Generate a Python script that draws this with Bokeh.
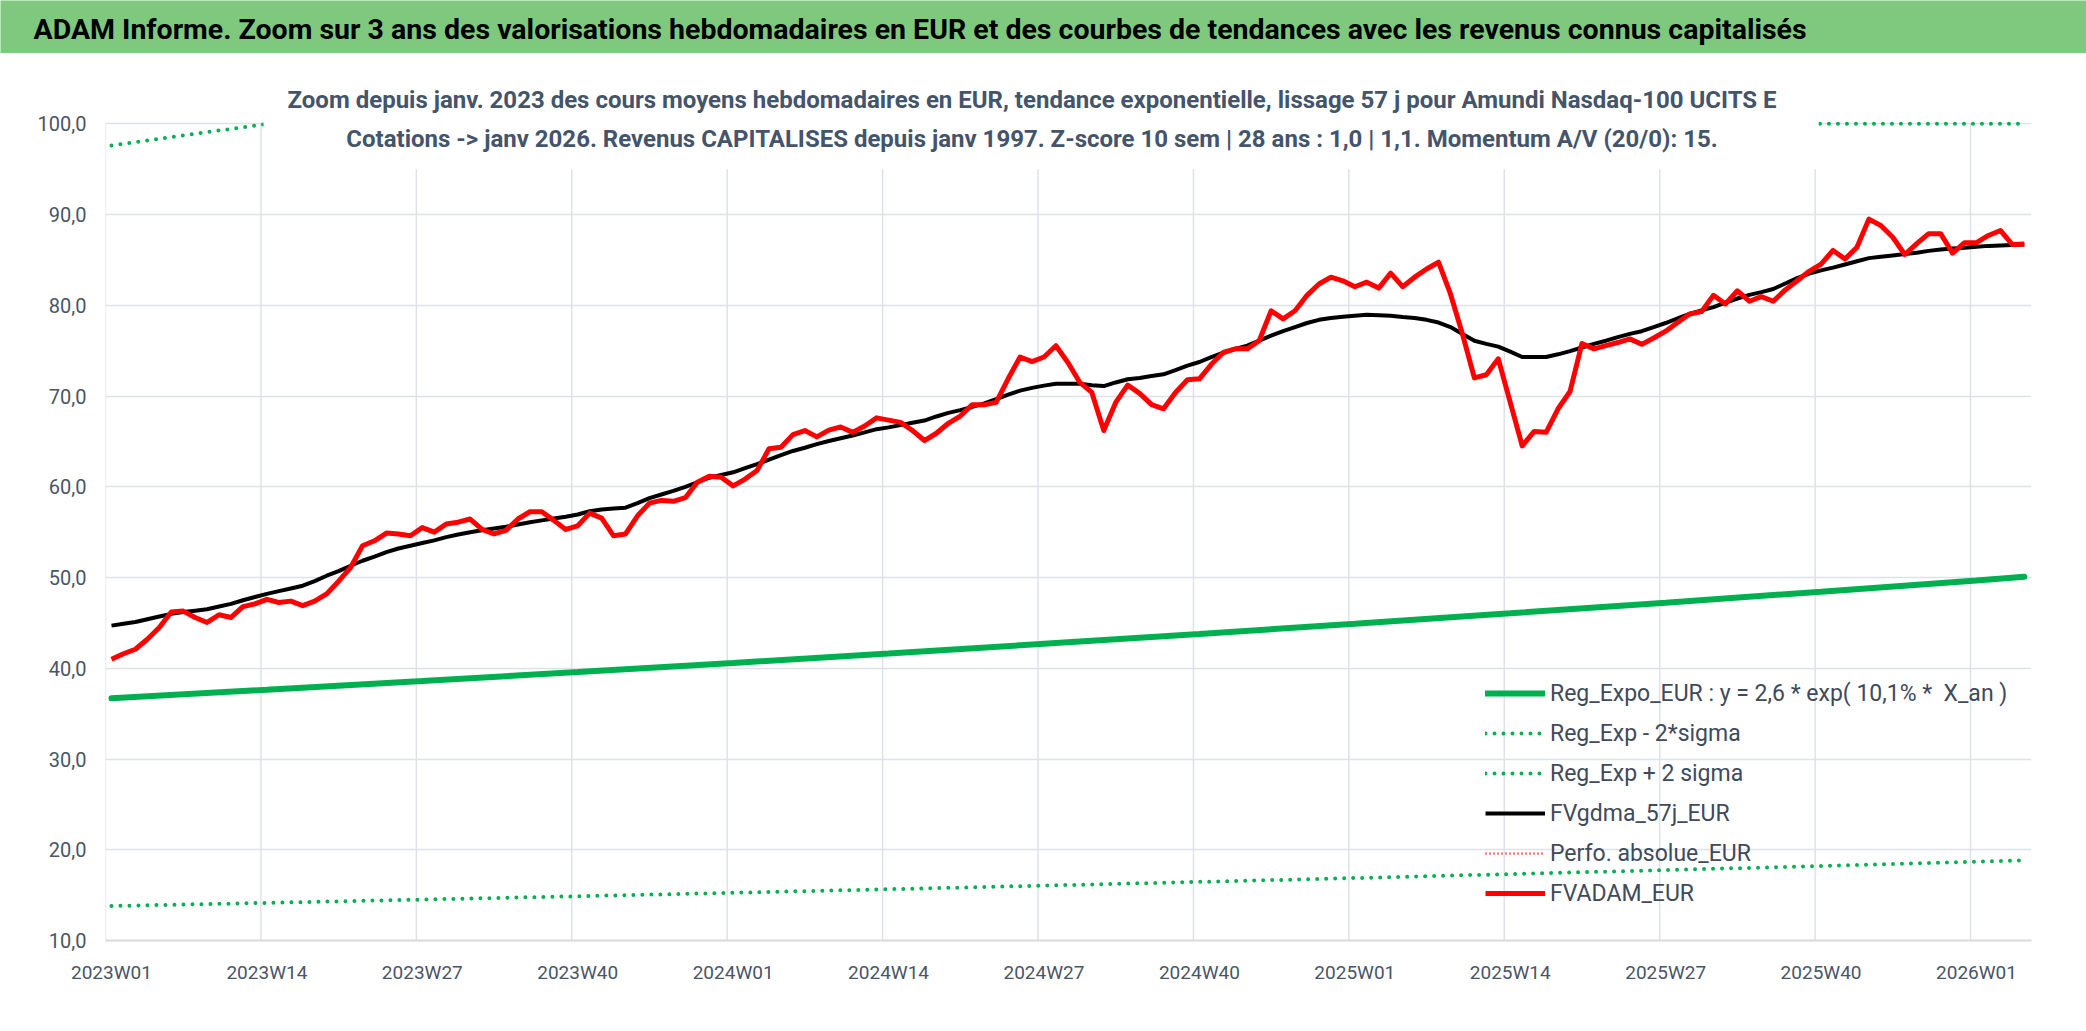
from bokeh.plotting import figure
from bokeh.models import Range1d, FixedTicker, Label, Legend, LegendItem, ColumnDataSource
from bokeh.embed import file_html
from bokeh.resources import INLINE

# ---------------- data ----------------
x_tick_labels = ["2023W01", "2023W14", "2023W27", "2023W40", "2024W01", "2024W14", "2024W27",
                 "2024W40", "2025W01", "2025W14", "2025W27", "2025W40", "2026W01"]
y_ticks = [10, 20, 30, 40, 50, 60, 70, 80, 90, 100]
y_tick_labels = ["10,0", "20,0", "30,0", "40,0", "50,0", "60,0", "70,0", "80,0", "90,0", "100,0"]

fvadam_eur = [41.0, 41.6, 42.1, 43.2, 44.5, 46.2, 46.3, 45.6, 45.05, 45.9,
              45.6, 46.8, 47.1, 47.6, 47.25, 47.4, 46.9, 47.4, 48.2, 49.6,
              51.1, 53.5, 54.05, 54.9, 54.8, 54.6, 55.5, 55.0, 55.9, 56.1,
              56.45, 55.3, 54.8, 55.2, 56.45, 57.25, 57.25, 56.3, 55.3, 55.7,
              57.1, 56.55, 54.6, 54.8, 56.8, 58.2, 58.5, 58.4, 58.8, 60.5,
              61.15, 61.05, 60.1, 60.85, 61.8, 64.2, 64.35, 65.75, 66.2, 65.5,
              66.25, 66.6, 66.0, 66.7, 67.6, 67.35, 67.1, 66.2, 65.1, 65.9,
              67.0, 67.8, 69.05, 69.05, 69.3, 71.9, 74.3, 73.8, 74.3, 75.55,
              73.7, 71.5, 70.4, 66.2, 69.3, 71.2, 70.3, 69.05, 68.6, 70.4,
              71.8, 71.9, 73.5, 74.8, 75.2, 75.2, 76.1, 79.4, 78.5, 79.4,
              81.1, 82.35, 83.1, 82.7, 82.05, 82.55, 81.9, 83.55, 82.05, 83.1,
              84.0, 84.75, 81.25, 76.85, 72.0, 72.35, 74.1, 69.3, 64.5, 66.1,
              66.0, 68.6, 70.5, 75.8, 75.2, 75.55, 75.9, 76.3, 75.7, 76.4,
              77.15, 78.1, 79.05, 79.3, 81.1, 80.15, 81.6, 80.45, 80.95, 80.45,
              81.7, 82.7, 83.75, 84.55, 86.05, 85.1, 86.4, 89.5, 88.8, 87.5,
              85.6, 86.8, 87.9, 87.9, 85.75, 86.9, 86.9, 87.7, 88.25, 86.7,
              86.75]

fvgdma_57j_eur = [44.7, 44.9, 45.1, 45.4, 45.7, 46.0, 46.2, 46.35, 46.5, 46.8,
                  47.1, 47.5, 47.85, 48.2, 48.5, 48.8, 49.1, 49.6, 50.2, 50.7,
                  51.3, 51.85, 52.3, 52.8, 53.2, 53.5, 53.8, 54.1, 54.45, 54.75,
                  55.0, 55.2, 55.4, 55.6, 55.85, 56.1, 56.3, 56.5, 56.7, 56.95,
                  57.3, 57.5, 57.6, 57.7, 58.2, 58.75, 59.15, 59.55, 60.0, 60.5,
                  61.0, 61.3, 61.6, 62.05, 62.5, 63.0, 63.5, 63.95, 64.3, 64.7,
                  65.05, 65.35, 65.65, 66.0, 66.35, 66.55, 66.8, 67.05, 67.3, 67.75,
                  68.15, 68.45, 68.8, 69.2, 69.65, 70.15, 70.6, 70.9, 71.15, 71.35,
                  71.35, 71.35, 71.2, 71.1, 71.5, 71.85, 72.0, 72.2, 72.4, 72.85,
                  73.35, 73.75, 74.3, 74.8, 75.2, 75.55, 76.1, 76.65, 77.15, 77.6,
                  78.05, 78.4, 78.6, 78.75, 78.85, 78.95, 78.9, 78.85, 78.7, 78.6,
                  78.4, 78.1, 77.6, 76.85, 76.1, 75.75, 75.45, 74.9, 74.3, 74.3,
                  74.3, 74.6, 74.95, 75.35, 75.75, 76.1, 76.5, 76.85, 77.15, 77.6,
                  78.05, 78.55, 79.05, 79.45, 79.8, 80.3, 80.75, 81.15, 81.45, 81.8,
                  82.4, 83.0, 83.5, 83.85, 84.15, 84.5, 84.85, 85.2, 85.35, 85.5,
                  85.65, 85.8, 86.0, 86.15, 86.25, 86.35, 86.45, 86.55, 86.6, 86.65,
                  86.7]

# regression curves read at every 13th week (and the last week)
reg_weeks = [0, 13, 26, 39, 52, 65, 78, 91, 104, 117, 130, 143, 156, 160]
reg_expo_eur = [36.7, 37.64, 38.60, 39.58, 40.59, 41.63, 42.70, 43.79, 44.91, 46.06, 47.23, 48.44, 49.68, 50.08]
reg_exp_minus_2s = [13.8, 14.15, 14.51, 14.88, 15.26, 15.65, 16.05, 16.46, 16.88, 17.32, 17.76, 18.21, 18.68, 18.83]
reg_exp_plus_2s = [97.6, 100.0, 100.0, 100.0, 100.0, 100.0, 100.0, 100.0, 100.0, 100.0, 100.0, 100.0, 100.0, 100.0]
perfo_absolue_eur = [float("nan")]   # not visible in the zoomed window

weeks = list(range(len(fvadam_eur)))
x_ticks = [13 * k for k in range(len(x_tick_labels))]
grid_ticks = [t - 0.5 for t in x_ticks]

FONT = "Roboto"
TXT = "#4A5565"
GREEN = "#00B050"
GRID = "#DEE2E8"

# ---------------- banner ----------------
banner = figure(width=2086, height=53, x_range=Range1d(0, 2086), y_range=Range1d(0, 53),
                toolbar_location=None, output_backend="svg", min_border=0,
                min_border_left=0, min_border_right=0, min_border_top=0, min_border_bottom=0,
                x_axis_location=None, y_axis_location=None)
banner.grid.visible = False
banner.outline_line_color = None
banner.background_fill_color = "#7FC97F"
banner.border_fill_color = "#7FC97F"
banner.add_layout(Label(x=33, y=24, text="ADAM Informe. Zoom sur 3 ans des valorisations hebdomadaires en EUR et des courbes de tendances avec les revenus connus capitalisés",
                        text_font=FONT, text_font_size="28.5px", text_font_style="bold",
                        text_color="black", text_baseline="middle", text_align="left"))

# ---------------- main chart ----------------
p = figure(frame_width=1926, frame_height=882,
           x_range=Range1d(-0.5, 160.6), y_range=Range1d(10, 107.2),
           min_border_left=105, min_border_right=55, min_border_top=5, min_border_bottom=91,
           toolbar_location=None, output_backend="svg")
p.outline_line_color = None
p.background_fill_color = "white"
p.border_fill_color = "white"

p.xgrid.visible = False
p.ygrid.grid_line_color = GRID
p.ygrid.grid_line_width = 1.5

p.xaxis.ticker = FixedTicker(ticks=x_ticks)
p.xaxis.major_label_overrides = {t: l for t, l in zip(x_ticks, x_tick_labels)}
p.yaxis.ticker = FixedTicker(ticks=y_ticks)
p.yaxis.major_label_overrides = {t: l for t, l in zip(y_ticks, y_tick_labels)}
for ax in (p.xaxis, p.yaxis):
    ax.major_tick_line_color = None
    ax.minor_tick_line_color = None
    ax.major_tick_out = 0
    ax.major_label_text_font = FONT
    ax.major_label_text_color = TXT
p.xaxis.major_label_text_font_size = "19px"
p.yaxis.major_label_text_font_size = "20px"
p.xaxis.major_label_standoff = 20
p.yaxis.major_label_standoff = 19
p.xaxis.axis_line_color = "#D9D9D9"
p.xaxis.axis_line_width = 2
p.yaxis.axis_line_color = None

# vertical category gridlines, limited to the value range 10..100
p.segment(x0=grid_ticks, y0=y_ticks[0], x1=grid_ticks, y1=y_ticks[-1],
          line_color=GRID, line_width=1.5)

src_reg = ColumnDataSource(dict(x=reg_weeks, expo=reg_expo_eur, lo=reg_exp_minus_2s, hi=reg_exp_plus_2s))
src = ColumnDataSource(dict(x=weeks, adam=fvadam_eur, gdma=fvgdma_57j_eur))

r_expo = p.line("x", "expo", source=src_reg, line_color=GREEN, line_width=6, line_cap="round")
r_lo = p.line("x", "lo", source=src_reg, line_color=GREEN, line_width=4, line_dash="0 9", line_cap="round")
r_hi = p.line("x", "hi", source=src_reg, line_color=GREEN, line_width=4, line_dash="0 9", line_cap="round")
r_gdma = p.line("x", "gdma", source=src, line_color="black", line_width=4, line_join="round")
r_perf = p.line(x=[0], y=perfo_absolue_eur, line_color="red", line_width=2.5, line_dash="1 3")
r_adam = p.line("x", "adam", source=src, line_color="#FF0000", line_width=5, line_join="round")

# white chart-title box (hides the top of the plot area, as in the original)
p.quad(left=[12.72], right=[142.8], bottom=[95.0], top=[107.2], fill_color="white", line_color=None)

SUB = "#44546A"
p.add_layout(Label(x=77.0, y=102.6, text="Zoom depuis janv. 2023 des cours moyens hebdomadaires en EUR, tendance exponentielle, lissage 57 j pour Amundi Nasdaq-100 UCITS E",
                   text_font=FONT, text_font_size="24px", text_font_style="bold", text_color=SUB,
                   text_align="center", text_baseline="middle"))
p.add_layout(Label(x=77.0, y=98.3, text="Cotations -> janv 2026. Revenus CAPITALISES depuis janv 1997. Z-score 10 sem | 28 ans : 1,0 | 1,1. Momentum A/V (20/0): 15.",
                   text_font=FONT, text_font_size="24px", text_font_style="bold", text_color=SUB,
                   text_align="center", text_baseline="middle"))

legend = Legend(items=[
    LegendItem(label="Reg_Expo_EUR : y = 2,6 * exp( 10,1% *  X_an )", renderers=[r_expo]),
    LegendItem(label="Reg_Exp - 2*sigma", renderers=[r_lo]),
    LegendItem(label="Reg_Exp + 2 sigma", renderers=[r_hi]),
    LegendItem(label="FVgdma_57j_EUR", renderers=[r_gdma]),
    LegendItem(label="Perfo. absolue_EUR", renderers=[r_perf]),
    LegendItem(label="FVADAM_EUR", renderers=[r_adam]),
], location=(1380, 32))
legend.background_fill_alpha = 0
legend.border_line_color = None
legend.padding = 0
legend.margin = 0
legend.glyph_width = 60
legend.glyph_height = 30
legend.label_height = 30
legend.spacing = 10
legend.label_standoff = 5
legend.label_text_font = FONT
legend.label_text_font_size = "23px"
legend.label_text_color = "#404A5A"
p.add_layout(legend)

open("out.html", "w").write(file_html([banner, p], INLINE))
